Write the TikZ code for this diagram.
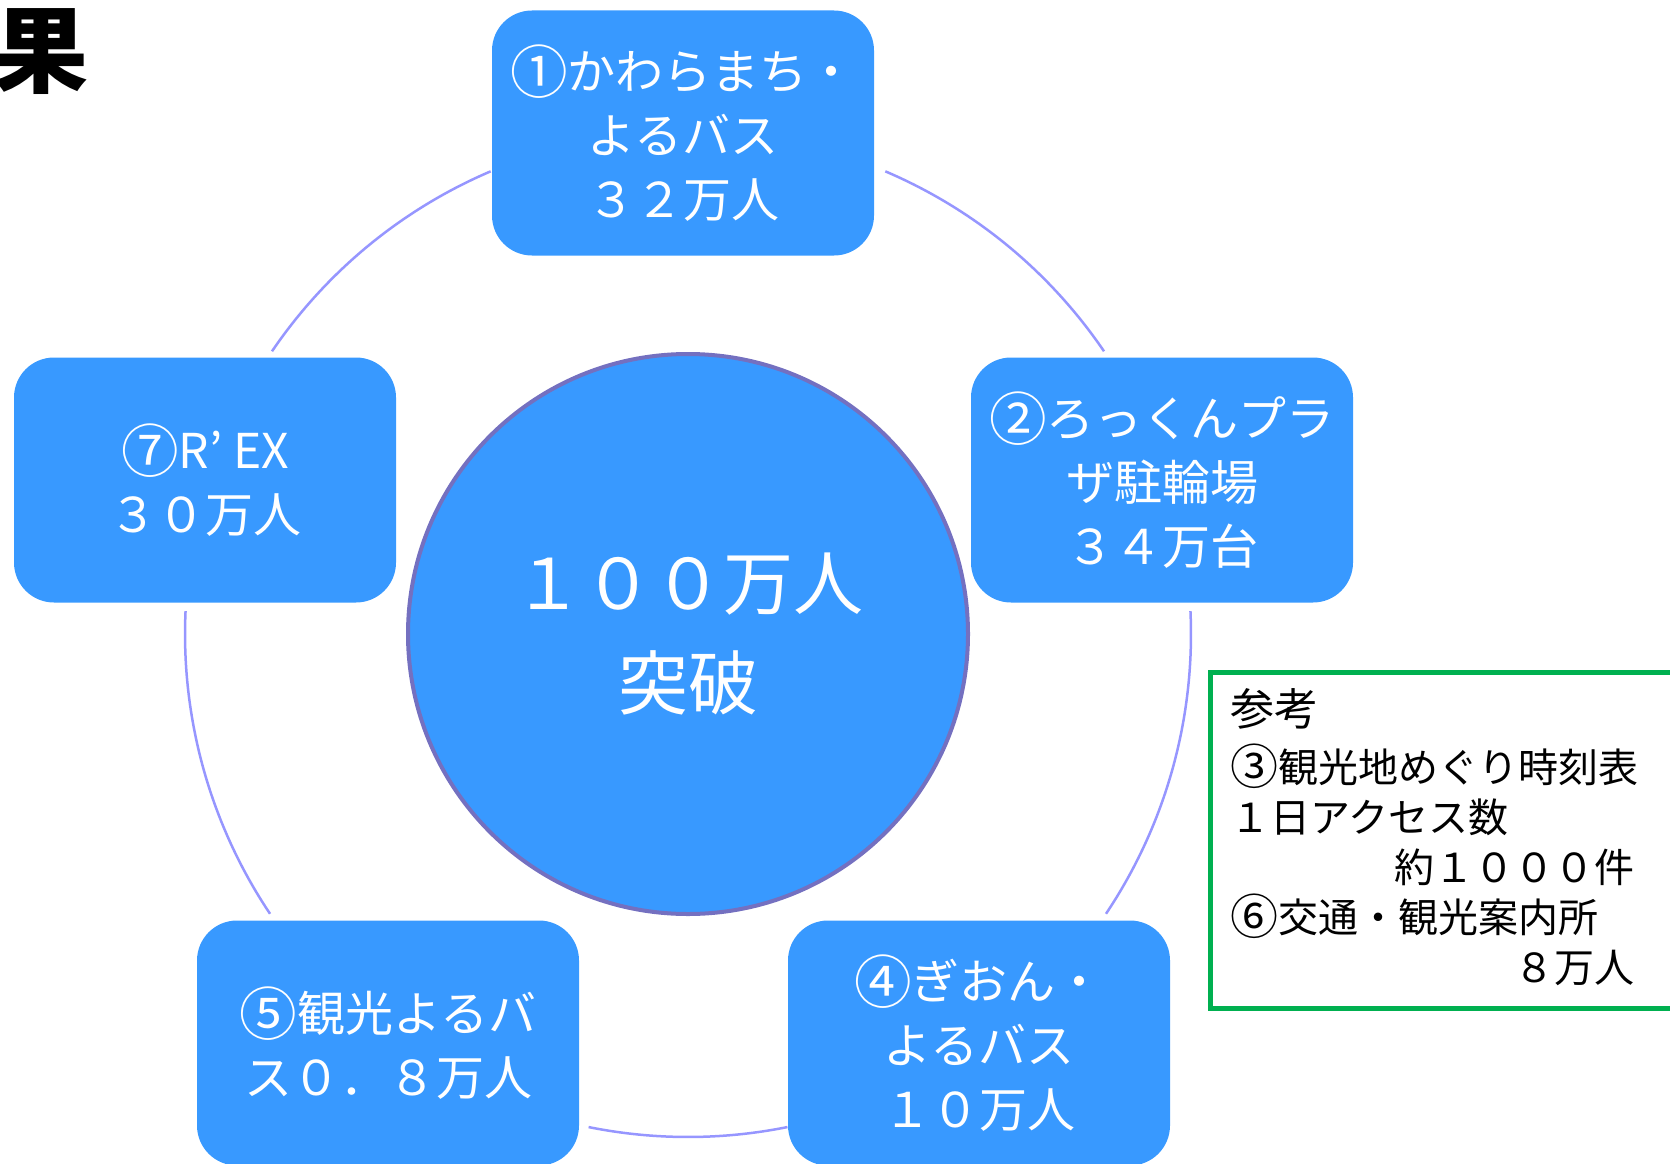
\documentclass[tikz,border=0pt]{standalone}
\usepackage{fontspec}
\setmainfont{Noto Sans CJK JP}
\usepackage{tikz}

\definecolor{boxblue}{RGB}{56,153,255}
\definecolor{rimblue}{RGB}{116,112,192}
\definecolor{ringline}{RGB}{150,150,255}
\definecolor{refgreen}{RGB}{0,176,80}

% larger circled numbers
\newcommand{\cnum}[1]{\raisebox{-0.07em}{\scalebox{1.2}{#1}}}

\begin{document}
\begin{tikzpicture}[x=1pt, y=1pt,
  spot/.style={rectangle, rounded corners=40pt, fill=boxblue, text=white,
    minimum width=382pt, minimum height=245pt, align=center, inner sep=0pt,
    font=\fontsize{48}{64}\selectfont},
  hub/.style={circle, fill=boxblue, draw=rimblue, line width=4pt, text=white,
    minimum size=560pt, align=center, font=\fontsize{70}{100}\selectfont},
  ring/.style={draw=ringline, line width=2.5pt}]
\useasboundingbox (0,0) rectangle (1670,-1164);
\clip (0,0) rectangle (1670,-1164);

% title, cut at the left edge
\node[inner sep=0pt, font=\fontsize{95}{95}\selectfont\bfseries] (title) at (41,-52) {果};

% centre
\node[hub] (hub) at (688,-634) {１００万人\\突破};

% ring round the centre, broken at the spots
\draw[ring] (hub.center) ++(113.1:503) arc[start angle=113.1, end angle=145.8, radius=503];
\draw[ring] (hub.center) ++(66.9:503) arc[start angle=66.9, end angle=34.2, radius=503];
\draw[ring] (hub.center) ++(2.6:503) arc[start angle=2.6, end angle=-33.8, radius=503];
\draw[ring] (hub.center) ++(-78.6:503) arc[start angle=-78.6, end angle=-101.4, radius=503];
\draw[ring] (hub.center) ++(177.4:503) arc[start angle=177.4, end angle=213.8, radius=503];

% spots
\node[spot] (s1) at (683,-133) {\cnum{①}かわらまち・\\よるバス\\３２万人};
\node[spot] (s2) at (1162,-480) {\cnum{②}ろっくんプラ\\ザ駐輪場\\３４万台};
\node[spot] (s4) at (979,-1043) {\cnum{④}ぎおん・\\よるバス\\１０万人};
\node[spot] (s5) at (388,-1043) {\cnum{⑤}観光よるバ\\ス０．８万人};
\node[spot] (s7) at (205,-480) {\cnum{⑦}R’ EX\\３０万人};

% reference box
\node[draw=refgreen, line width=5pt, outer sep=0pt, inner sep=0pt, anchor=north west,
  minimum width=480pt, minimum height=336pt] (ref) at (1210.5,-672.5) {};
\node[anchor=north west, inner sep=0pt, align=left, text width=404pt,
  font=\fontsize{40}{50}\selectfont] (reftext) at (1230,-688)
  {{\fontsize{44}{50}\selectfont 参考}\\[7pt]\cnum{③}観光地めぐり時刻表\\１日アクセス数\\\hspace*{\fill}約１０００件\\\cnum{⑥}交通・観光案内所\\\hspace*{\fill}８万人};
\end{tikzpicture}
\end{document}
